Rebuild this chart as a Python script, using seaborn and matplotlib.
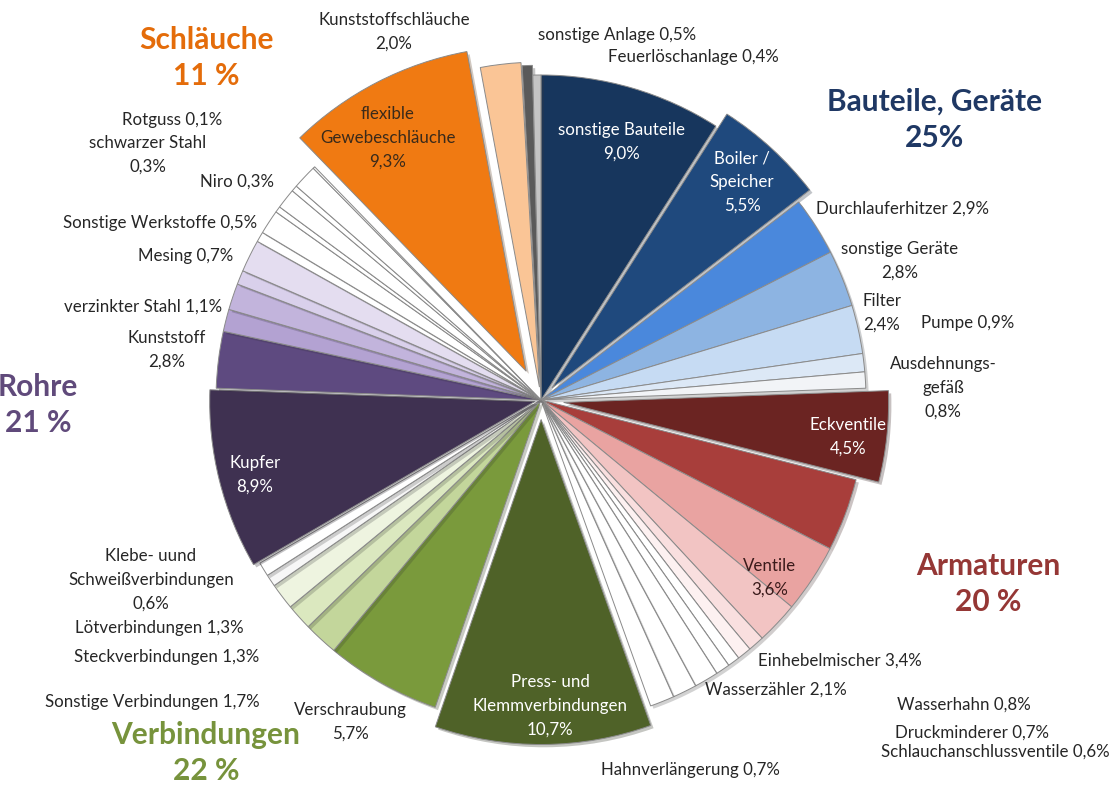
import matplotlib
matplotlib.use("Agg")
import matplotlib.pyplot as plt
import matplotlib.patheffects as pe
import seaborn as sns

sns.set_theme(style="white")
plt.rcParams['font.family'] = ['Lato', 'DejaVu Sans']

# ---- data (clockwise from 12 o'clock), percent ----
names = ["sonstige Bauteile", "Boiler / Speicher", "Durchlauferhitzer", "sonstige Geräte",
         "Filter", "Pumpe", "Ausdehnungsgefäß",
         "Eckventile", "Ventile", "Einhebelmischer", "Wasserzähler", "Wasserhahn",
         "Druckminderer", "Schlauchanschlussventile", "Hahnverlängerung",
         "Armaturen (übrige 1)", "Armaturen (übrige 2)", "Armaturen (übrige 3)",
         "Press- und Klemmverbindungen", "Verschraubung", "Sonstige Verbindungen",
         "Steckverbindungen", "Lötverbindungen", "Klebe- und Schweißverbindungen",
         "Verbindungen (übrige)",
         "Kupfer", "Kunststoff", "verzinkter Stahl", "Rohre (übrige 1)", "Mesing",
         "Rohre (übrige 2)", "Sonstige Werkstoffe", "Rohre (übrige 3)", "Niro",
         "Rohre (übrige 4)", "schwarzer Stahl", "Rohre (übrige 5)", "Rotguss",
         "flexible Gewebeschläuche", "Kunststoffschläuche",
         "sonstige Anlage", "Feuerlöschanlage"]
values = [9.0, 5.5, 2.9, 2.8, 2.4, 0.9, 0.8,
          4.5, 3.6, 3.4, 2.1, 0.8, 0.7, 0.6, 0.7, 1.2, 1.2, 1.2,
          10.7, 5.7, 1.7, 1.3, 1.3, 0.6, 0.7,
          8.9, 2.8, 1.1, 1.3, 0.7, 1.6, 0.5, 1.2, 0.3, 1.0, 0.3, 1.2, 0.1,
          9.3, 2.0,
          0.5, 0.4]
colors = ["#17365d", "#1f497d", "#4a88dc", "#8db4e2", "#c6dbf3", "#dce8f6", "#f2f4f7",
          "#6b2422", "#a83e3b", "#e9a3a1", "#f2c4c3", "#f9dfdf", "#fdf1f1", "#ffffff",
          "#ffffff", "#ffffff", "#ffffff", "#ffffff",
          "#4f6228", "#7a9a3c", "#c3d69b", "#dbe8bf", "#eef4e0", "#f7f7f7", "#ffffff",
          "#3f3151", "#5e4a80", "#b3a2d2", "#c2b4dc", "#d9d0eb", "#e4ddf0", "#ffffff",
          "#ffffff", "#ffffff", "#ffffff", "#ffffff", "#ffffff", "#ffffff",
          "#f07a12", "#fac596",
          "#5a5a5a", "#c4c4c4"]
explode = [0.0, 0.05, 0, 0, 0, 0, 0,
           0.07, 0, 0, 0, 0, 0, 0, 0, 0, 0, 0,
           0.06, 0, 0, 0, 0, 0, 0,
           0.02, 0, 0, 0, 0, 0, 0, 0, 0, 0, 0, 0, 0,
           0.1, 0.04,
           0.03, 0.0]

group_titles = ["Schläuche\n11 %", "Bauteile, Geräte\n25%", "Rohre\n21 %",
                "Armaturen\n20 %", "Verbindungen\n22 %"]

W, H = 1111, 785
CX, CY, R = 541, 400, 325

fig = plt.figure(figsize=(W / 100, H / 100), dpi=100)
ax = fig.add_axes([0, 0, 1, 1])
wedges, _ = ax.pie(values, colors=colors, explode=explode, startangle=90,
                   counterclock=False, radius=1.0, normalize=True,
                   wedgeprops=dict(edgecolor="#8a8a8a", linewidth=0.7))
for w in wedges:
    w.set_path_effects([pe.SimplePatchShadow(offset=(2, -2), alpha=0.25), pe.Normal()])
ax.set_aspect("equal")
ax.set_xlim(-CX / R, (W - CX) / R)
ax.set_ylim(-(H - CY) / R, CY / R)
ax.axis("off")


def t(x, y, s, size=12.2, color="#262626", weight="normal", ha="center", ls=1.6):
    fig.text(x / W, 1 - y / H, s, fontsize=size, color=color, weight=weight,
             ha=ha, va="center", linespacing=ls)


def g(x, y, s, color):
    t(x, y, s, size=21.5, color=color, weight="bold", ls=1.38)


# group titles
g(206, 58, group_titles[0], "#e46c0a")
g(935, 120, group_titles[1], "#1f3864")
g(38, 405, group_titles[2], "#604a7b")
g(988, 584, group_titles[3], "#953735")
g(206, 753, group_titles[4], "#77933c")

# slice labels
t(394, 32, "Kunststoffschläuche\n2,0%")
t(617, 35, "sonstige Anlage 0,5%")
t(693, 57, "Feuerlöschanlage 0,4%")
t(388, 138, "flexible\nGewebeschläuche\n9,3%", color="#3a2a1a")
t(622, 142, "sonstige Bauteile\n9,0%", color="white")
t(742, 182, "Boiler /\nSpeicher\n5,5%", color="white")
t(903, 209, "Durchlauferhitzer 2,9%")
t(900, 261, "sonstige Geräte\n2,8%")
t(882, 313, "Filter\n2,4%")
t(968, 323, "Pumpe 0,9%")
t(943, 388, "Ausdehnungs-\ngefäß\n0,8%")
t(848, 437, "Eckventile\n4,5%", color="white")
t(770, 578, "Ventile\n3,6%", color="#3a1a1a")
t(840, 661, "Einhebelmischer 3,4%")
t(776, 690, "Wasserzähler 2,1%")
t(964, 705, "Wasserhahn 0,8%")
t(972, 733, "Druckminderer 0,7%")
t(995, 752, "Schlauchanschlussventile 0,6%")
t(690, 770, "Hahnverlängerung 0,7%")
t(550, 706, "Press- und\nKlemmverbindungen\n10,7%", color="white")
t(350, 722, "Verschraubung\n5,7%")
t(152, 702, "Sonstige Verbindungen 1,7%")
t(167, 657, "Steckverbindungen 1,3%")
t(159, 628, "Lötverbindungen 1,3%")
t(151, 580, "Klebe- uund\nSchweißverbindungen\n0,6%")
t(255, 475, "Kupfer\n8,9%", color="white")
t(167, 350, "Kunststoff\n2,8%")
t(143, 307, "verzinkter Stahl 1,1%")
t(186, 256, "Mesing 0,7%")
t(160, 223, "Sonstige Werkstoffe 0,5%")
t(237, 182, "Niro 0,3%")
t(148, 155, "schwarzer Stahl\n0,3%")
t(172, 120, "Rotguss 0,1%")

fig.savefig("out.png", dpi=100, facecolor="white")
